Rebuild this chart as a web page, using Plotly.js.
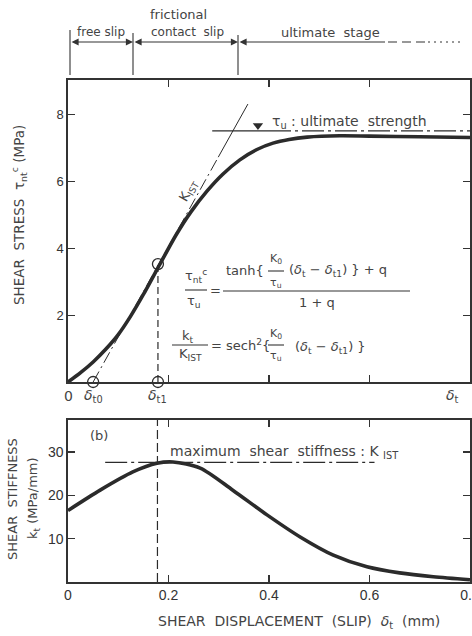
<!DOCTYPE html>
<html><head><meta charset="utf-8">
<script src="https://cdn.plot.ly/plotly-3.0.1.min.js"></script>
<style>html,body{margin:0;padding:0;background:#fff}#chart{width:472px;height:636px}</style>
</head><body><div id="chart"></div>
<script>
// ---- data ----
const slipTau = [0, 0.025, 0.05, 0.075, 0.1, 0.125, 0.15, 0.183, 0.215, 0.245, 0.277, 0.308, 0.342, 0.376, 0.408, 0.44, 0.476, 0.541, 0.6, 0.7, 0.8];
const shearStress = [0, 0.28, 0.6, 0.98, 1.42, 1.98, 2.62, 3.53, 4.4, 5.1, 5.72, 6.22, 6.65, 6.96, 7.15, 7.26, 7.33, 7.37, 7.36, 7.34, 7.32];
const slipK = [0, 0.064, 0.129, 0.177, 0.209, 0.263, 0.328, 0.396, 0.462, 0.528, 0.595, 0.66, 0.727, 0.8];
const shearStiffness = [16.5, 21.2, 25.4, 27.4, 27.7, 26.3, 21.2, 15.5, 10.4, 6.2, 3.5, 2.1, 1.2, 0.5];
const tangentDashX = [0.05, 0.299];
const tangentDashY = [0, 6.73];
const tangentSolidX = [0.299, 0.358];
const tangentSolidY = [6.73, 8.32];
const ultimateSolidX = [0.287, 0.40];
const ultimateDashX = [0.40, 0.8];
const ultimateY = 7.52;
const ultimateMarkX = [0.378];
const ultimateMarkY = [7.68];
const circleX = [0.05, 0.179, 0.179];
const circleY = [0, 0, 3.53];
const delta1X = [0.179, 0.179];
const delta1Y = [0, 3.53];
const kMaxX = [0.074, 0.61];
const kMaxY = [27.6, 27.6];
const kDashX = [0.178, 0.178];
const kDashY = [0, 37.4];
const topXTicks = [0.2, 0.4, 0.6];
const topYTicks = [2, 4, 6, 8];
const botXTicks = [0, 0.2, 0.4, 0.6, 0.8];
const botXLabels = ['0', '0.2', '0.4', '0.6', '0.8'];
const botYTicks = [10, 20, 30];
const slipMarkX = [0, 0.05, 0.179, 0.766];
const slipMarkLabels = ['0', '<i>δ</i><sub>t0</sub>', '<i>δ</i><sub>t1</sub>', '<i>δ</i><sub>t</sub>'];

// ---- layout helpers (pixel -> paper) ----
const ML = 68, MR = 2, MT = 80, MB = 54, W = 472, H = 636;
const PW = W - ML - MR, PH = H - MT - MB;
const P = X => (X - ML) / PW;
const Q = Y => (H - MB - Y) / PH;

const ink = '#2b2b2b', txt = '#444';
const FF = 'DejaVu Sans, Liberation Sans, sans-serif';
const TF = 'Liberation Sans, Arial, sans-serif';

const traces = [
  {x: slipTau, y: shearStress, xaxis: 'x', yaxis: 'y', mode: 'lines', line: {color: ink, width: 3.6, shape: 'spline', smoothing: 0.8}},
  {x: tangentDashX, y: tangentDashY, xaxis: 'x', yaxis: 'y', mode: 'lines', line: {color: ink, width: 1, dash: '12px,4px,2px,4px'}},
  {x: tangentSolidX, y: tangentSolidY, xaxis: 'x', yaxis: 'y', mode: 'lines', line: {color: ink, width: 1}},
  {x: ultimateSolidX, y: ultimateSolidX.map(() => ultimateY), xaxis: 'x', yaxis: 'y', mode: 'lines', line: {color: ink, width: 1.2}},
  {x: ultimateDashX, y: ultimateDashX.map(() => ultimateY), xaxis: 'x', yaxis: 'y', mode: 'lines', line: {color: ink, width: 1.2, dash: '22px,4px,3px,4px'}},
  {x: ultimateMarkX, y: ultimateMarkY, xaxis: 'x', yaxis: 'y', mode: 'markers', marker: {symbol: 'triangle-down', size: 9, color: ink}},
  {x: delta1X, y: delta1Y, xaxis: 'x', yaxis: 'y', mode: 'lines', line: {color: ink, width: 1.2, dash: '7px,4px'}},
  {x: circleX, y: circleY, xaxis: 'x', yaxis: 'y', mode: 'markers', cliponaxis: false, marker: {symbol: 'circle-open', size: 11, color: ink, line: {width: 1.3, color: ink}}},
  {x: slipK, y: shearStiffness, xaxis: 'x2', yaxis: 'y2', mode: 'lines', line: {color: ink, width: 3.6, shape: 'spline', smoothing: 0.8}},
  {x: kMaxX, y: kMaxY, xaxis: 'x2', yaxis: 'y2', mode: 'lines', line: {color: ink, width: 1.2, dash: '22px,4px,3px,4px'}},
  {x: kDashX, y: kDashY, xaxis: 'x2', yaxis: 'y2', mode: 'lines', line: {color: ink, width: 1.2, dash: '9px,4px'}}
];

const axBase = {showline: true, linecolor: '#333', linewidth: 1.6, mirror: 'ticks', ticks: 'inside', ticklen: 7, tickwidth: 1.3, tickcolor: '#333', showgrid: false, zeroline: false, fixedrange: true, tickfont: {family: TF, size: 14, color: '#333'}};

const ann = [];
function T(text, X, Y, size, extra) {
  ann.push(Object.assign({text: text, x: P(X), y: Q(Y), xref: 'paper', yref: 'paper', showarrow: false, xanchor: 'center', yanchor: 'middle', font: {family: FF, size: size || 13, color: txt}}, extra || {}));
}
const LEFT = {xanchor: 'left'};
// slip marks below top plot
slipMarkX.forEach((v, i) => ann.push({text: slipMarkLabels[i], x: v, xref: 'x', y: Q(396), yref: 'paper', showarrow: false, font: {family: FF, size: 14, color: txt}}));
// stage labels
T('frictional', 178, 15, 13);
T('free slip', 101, 32, 12);
T('contact  slip', 187, 32, 12);
T('ultimate  stage', 330, 32, 13);
// stage arrows
function arrow(x1, x2, y, both) {
  ann.push({text: '', x: P(x2), y: Q(y), xref: 'paper', yref: 'paper', ax: x1 - x2, ay: 0, axref: 'pixel', ayref: 'pixel', showarrow: true, arrowhead: 2, startarrowhead: 2, arrowside: both ? 'end+start' : 'start', arrowsize: 1.3, startarrowsize: 1.3, arrowwidth: 1.1, arrowcolor: '#333', standoff: 0, startstandoff: 0});
}
arrow(70, 133, 42, true);
arrow(133, 238, 42, true);
arrow(238, 385, 42, false);
// equation 1
T('τ<sub>nt</sub><sup>c</sup>', 196, 276, 13);
T('τ<sub>u</sub>', 194, 301, 13);
T('=', 215, 290, 13);
T('tanh{', 224, 270, 13, LEFT);
T('K<sub>0</sub>', 276, 259, 11);
T('τ<sub>u</sub>', 276, 283, 11);
T('(<i>δ</i><sub>t</sub> − <i>δ</i><sub>t1</sub>) } + q', 287, 270, 13, LEFT);
T('1 + q', 317, 302, 13);
// equation 2
T('k<sub>t</sub>', 188, 336, 13);
T('K<sub>IST</sub>', 190, 354, 13);
T('= sech<sup>2</sup>{', 209, 345, 13, LEFT);
T('K<sub>0</sub>', 276, 334, 11);
T('τ<sub>u</sub>', 276, 356, 11);
T('(<i>δ</i><sub>t</sub> − <i>δ</i><sub>t1</sub>) }', 293, 347, 13, LEFT);
// other labels
T('τ<sub>u</sub> : ultimate  strength', 270, 122, 14, LEFT);
T('K<sub>IST</sub>', 188, 191, 13, {textangle: -61});
T('maximum  shear  stiffness : K <sub>IST</sub>', 168, 452, 14, LEFT);
T('(b)', 99, 435, 13);
// axis titles
T('SHEAR  STRESS  τ<sub>nt</sub><sup>c</sup> (MPa)', 19, 215, 13.5, {textangle: -90});
T('SHEAR  STIFFNESS', 12, 499, 13, {textangle: -90});
T('k<sub>t</sub> (MPa/mm)', 33, 498, 13, {textangle: -90});
T('SHEAR  DISPLACEMENT  (SLIP)  <i>δ</i><sub>t</sub>  (mm)', 299, 622, 14);

const shp = [];
function L(x0, y0, x1, y1, dash, w) {
  shp.push({type: 'line', xref: 'paper', yref: 'paper', x0: P(x0), y0: Q(y0), x1: P(x1), y1: Q(y1), line: {color: '#333', width: w || 1.1, dash: dash || 'solid'}});
}
L(70, 30, 70, 75); L(133, 33, 133, 75); L(238, 35, 238, 75);
L(388, 42, 425, 42, '9px,5px'); L(428, 42, 460, 42, '2px,4px');
// fraction bars
L(185, 290, 207, 290); L(268, 271, 284, 271); L(223, 291, 410, 291);
L(172, 345, 208, 345); L(268, 345, 284, 345);

const layout = {
  width: W, height: H, margin: {l: ML, r: MR, t: MT, b: MB},
  paper_bgcolor: '#fff', plot_bgcolor: '#fff', showlegend: false,
  xaxis: Object.assign({}, axBase, {domain: [0, 1], range: [0, 0.8], anchor: 'y', tickvals: topXTicks, showticklabels: false}),
  yaxis: Object.assign({}, axBase, {domain: [Q(382), 1], range: [0, 9.04], anchor: 'x', tickvals: topYTicks, tickfont: {family: TF, size: 13, color: '#333'}}),
  xaxis2: Object.assign({}, axBase, {domain: [0, 1], range: [0, 0.8], anchor: 'y2', tickvals: botXTicks, ticktext: botXLabels, ticklabeloverflow: 'allow'}),
  yaxis2: Object.assign({}, axBase, {domain: [0, Q(420)], range: [0, 37.4], anchor: 'x2', tickvals: botYTicks}),
  annotations: ann, shapes: shp
};
Plotly.newPlot('chart', traces, layout, {displayModeBar: false, staticPlot: true});
</script></body></html>
